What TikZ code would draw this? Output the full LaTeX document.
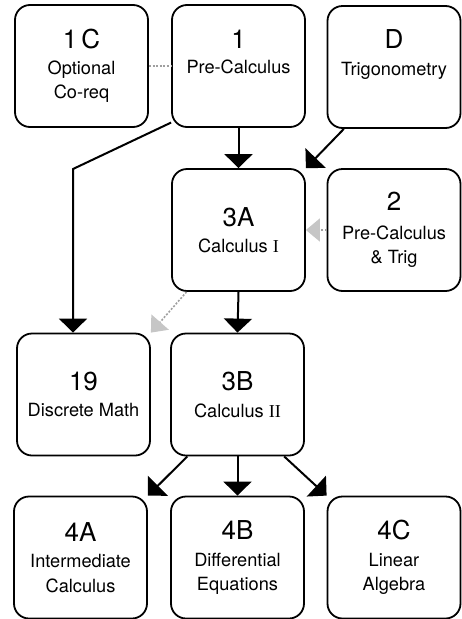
\documentclass[tikz,border=0pt]{standalone}
\usepackage{fontspec}
\setmainfont{TeX Gyre Heros}
\newfontfamily\romanfont{Liberation Serif}
\usetikzlibrary{arrows.meta, positioning}

\newcommand{\cnum}[1]{{\fontsize{26}{26}\selectfont #1}}
\newcommand{\rnum}[1]{{\romanfont #1}}

\begin{document}
\begin{tikzpicture}[x=1pt, y=-1pt,
  course/.style={draw, line width=1.8pt, rounded corners=15pt, minimum width=133pt, minimum height=122pt, inner sep=0pt, align=center, font=\fontsize{18.2}{24.5}\selectfont},
  req/.style={line width=2pt, -{Triangle[width=28pt,length=14pt]}},
  coreq/.style={draw=gray!75, line width=1.6pt, dash pattern=on 2pt off 1.6pt},
  coreqarr/.style={coreq, -{Triangle[width=23pt,length=14pt,color=gray!45]}}]
  \useasboundingbox (0,0) rectangle (461,619);

  % Top row
  \node[course] (c1C) at (81.5, 66) {\cnum{1\hspace{4pt}C}\\[1pt] Optional\\ Co-req};
  \node[course] (c1) at (238.5, 66) {\cnum{1}\\[1pt] Pre-Calculus\\ \vphantom{Co-req}};
  \node[course] (cD) at (394, 67) {\cnum{D}\\[3pt] Trigonometry\\ \vphantom{Co-req}};

  % Calculus I and its helper
  \node[course] (c3A) at (238.5, 230) {\cnum{3A}\\[2pt] Calculus \rnum{I}};
  \node[course] (c2) at (394, 230) {\cnum{2}\\[4pt] Pre-Calculus\\ \& Trig};

  % Second year
  \node[course] (c19) at (83.5, 394.5) {\cnum{19}\\[2pt] Discrete Math};
  \node[course] (c3B) at (237.5, 394.5) {\cnum{3B}\\[2pt] Calculus \rnum{II}};

  % Upper division
  \node[course] (c4A) at (80.5, 557.5) {\cnum{4A}\\[2pt] Intermediate\\ Calculus};
  \node[course] (c4B) at (237.5, 557.5) {\cnum{4B}\\[2pt] Differential\\ Equations};
  \node[course] (c4C) at (394, 557.5) {\cnum{4C}\\[2pt] Linear\\ Algebra};

  % Prerequisites
  \coordinate (bend) at (73, 169);
  \draw[req] (c1.south) -- (c3A.north);
  \draw[req] (cD.231) -- (c3A.north east);
  \draw[req] (c1.220) -- (bend) -- (bend |- c19.north);
  \draw[req] (c3A.south) -- (c3B.north);
  \draw[req] (c3B.231) -- (c4A.north east);
  \draw[req] (c3B.south) -- (c4B.north);
  \draw[req] (c3B.307) -- (c4C.north west);

  % Co-requisites
  \draw[coreq] (c1C.east) -- (c1.west);
  \draw[coreqarr] (c2.west) -- (c3A.east);
  \draw[coreqarr] (c3A.230) -- (c19.north east);
\end{tikzpicture}
\end{document}
